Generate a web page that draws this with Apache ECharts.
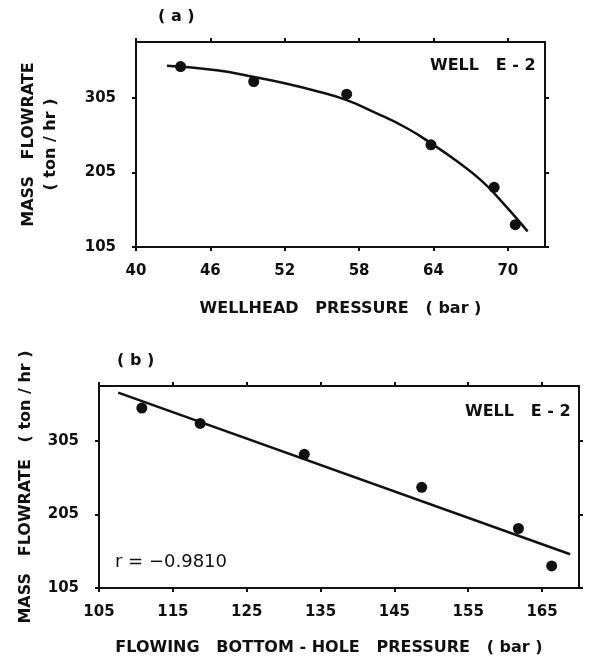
<!DOCTYPE html>
<html><head><meta charset="utf-8">
<script src="https://cdn.jsdelivr.net/npm/echarts@6/dist/echarts.min.js"></script>
<style>html,body{margin:0;padding:0;background:#fff}#c{width:590px;height:660px}</style>
</head><body><div id="c"></div>
<script>
// Panel (a): wellhead pressure vs mass flowrate
const aPressure = [43.6, 49.5, 57.0, 63.8, 68.9, 70.6];
const aFlow = [347, 327, 310, 242, 185, 135];
const aCurveX = [42.5, 46.5, 49.2, 51.9, 54.6, 57.0, 59.2, 61.9, 64.0, 65.9, 67.8, 69.4, 71.6];
const aCurveY = [348, 342, 334, 325, 314, 302, 286, 264, 242, 220, 195, 168, 126];
const aXTicks = [40, 46, 52, 58, 64, 70];
// Panel (b): flowing bottom-hole pressure vs mass flowrate
const bPressure = [110.8, 118.7, 132.8, 148.7, 161.8, 166.3];
const bFlow = [350, 329, 287, 242, 186, 135];
const bFitX = [107.6, 168.8];
const bFitY = [371, 151];
const bXTicks = [105, 115, 125, 135, 145, 155, 165];
const yTicks = [105, 205, 305];

const FONT = 'DejaVu Sans';
const INK = '#111';
const lab = {color: INK, fontFamily: FONT, fontWeight: 'bold', fontSize: 15};
const axLine = {show: true, onZero: false, lineStyle: {color: INK, width: 2}};

function xAxisPair(idx, min, max, ticks, name, gap, pad) {
  return [
    {type: 'value', gridIndex: idx, min: min, max: max, position: 'bottom',
     axisLine: axLine, splitLine: {show: false},
     axisTick: {show: true, length: 4, lineStyle: {color: INK, width: 2}, customValues: ticks},
     axisLabel: Object.assign({margin: 17, customValues: ticks, showMinLabel: true, showMaxLabel: true}, lab),
     name: name, nameLocation: 'middle', nameGap: gap,
     nameTextStyle: {color: INK, fontFamily: FONT, fontWeight: 'bold', fontSize: 16, padding: pad}},
    {type: 'value', gridIndex: idx, min: min, max: max, position: 'top',
     axisLine: axLine, splitLine: {show: false},
     axisTick: {show: true, length: 4, lineStyle: {color: INK, width: 2}, customValues: ticks},
     axisLabel: {show: false}}
  ];
}
function yAxisPair(idx, name, gap) {
  return [
    {type: 'value', gridIndex: idx, min: 105, max: 380, position: 'left',
     axisLine: axLine, splitLine: {show: false},
     axisTick: {show: true, length: 4, lineStyle: {color: INK, width: 2}, customValues: yTicks},
     axisLabel: Object.assign({margin: 20, customValues: yTicks}, lab),
     name: name, nameLocation: 'middle', nameGap: gap, nameRotate: 90,
     nameTextStyle: {color: INK, fontFamily: FONT, fontWeight: 'bold', fontSize: 16, lineHeight: 22, align: 'center'}},
    {type: 'value', gridIndex: idx, min: 105, max: 380, position: 'right',
     axisLine: axLine, splitLine: {show: false},
     axisTick: {show: true, length: 4, lineStyle: {color: INK, width: 2}, customValues: yTicks},
     axisLabel: {show: false}}
  ];
}

const zip = (xs, ys) => xs.map((x, i) => [x, ys[i]]);

const option = {
  backgroundColor: '#fff',
  animation: false,
  grid: [
    {left: 136, top: 42, width: 409, height: 205},
    {left: 99, top: 386, width: 480, height: 202}
  ],
  xAxis: [
    ...xAxisPair(0, 40, 73, aXTicks, 'WELLHEAD   PRESSURE   ( bar )', 54, [0, 0, 0, 0]),
    ...xAxisPair(1, 105, 170, bXTicks, 'FLOWING   BOTTOM - HOLE   PRESSURE   ( bar )', 52, [0, 20, 0, 0])
  ],
  yAxis: [
    ...yAxisPair(0, 'MASS   FLOWRATE\n( ton / hr )', 74),
    ...yAxisPair(1, 'MASS   FLOWRATE   ( ton / hr )', 60)
  ],
  series: [
    {type: 'line', xAxisIndex: 0, yAxisIndex: 0, data: zip(aCurveX, aCurveY), smooth: 0.5,
     showSymbol: false, lineStyle: {color: INK, width: 2.5}},
    {type: 'scatter', xAxisIndex: 0, yAxisIndex: 0, data: zip(aPressure, aFlow),
     symbolSize: 11, itemStyle: {color: INK, opacity: 1}},
    {type: 'line', xAxisIndex: 2, yAxisIndex: 2, data: zip(bFitX, bFitY),
     showSymbol: false, lineStyle: {color: INK, width: 2.5}},
    {type: 'scatter', xAxisIndex: 2, yAxisIndex: 2, data: zip(bPressure, bFlow),
     symbolSize: 11, itemStyle: {color: INK, opacity: 1}}
  ],
  graphic: [
    {type: 'text', left: 158, top: 9, style: {text: '( a )', fill: INK, font: 'bold 16px "DejaVu Sans"'}},
    {type: 'text', left: 117, top: 353, style: {text: '( b )', fill: INK, font: 'bold 16px "DejaVu Sans"'}},
    {type: 'text', left: 430, top: 58, style: {text: 'WELL   E - 2', fill: INK, font: 'bold 16px "DejaVu Sans"'}},
    {type: 'text', left: 465, top: 404, style: {text: 'WELL   E - 2', fill: INK, font: 'bold 16px "DejaVu Sans"'}},
    {type: 'text', left: 115, top: 553, style: {text: 'r = \u22120.9810', fill: INK, font: '18px "DejaVu Sans"'}}
  ]
};
echarts.init(document.getElementById('c')).setOption(option);
</script></body></html>
